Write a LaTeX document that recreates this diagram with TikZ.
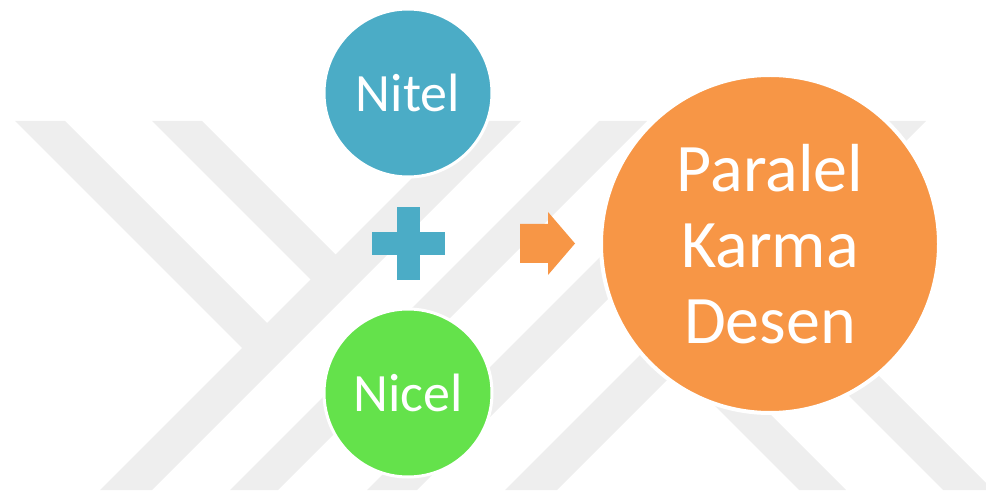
\documentclass[tikz,border=0pt]{standalone}
\usepackage{fontspec}
\setmainfont{Carlito}
\definecolor{nitelblue}{HTML}{4BACC6}
\definecolor{nicelgreen}{HTML}{64E24B}
\definecolor{desenorange}{HTML}{F79646}
\definecolor{markgray}{HTML}{EEEEEE}
\tikzset{
  blob/.style={circle, draw=white, line width=3pt, text=white, inner sep=0pt, align=center},
  small text/.style={font=\fontsize{54}{60}\selectfont},
  big text/.style={font=\fontsize{68}{76}\selectfont}
}

\begin{document}
\begin{tikzpicture}[x=1pt,y=-1pt]
\useasboundingbox (0,0) rectangle (986,494);
% watermark stripes
\begin{scope}
\clip (0,121) rectangle (986,490);
\foreach \ua/\ub in {590/642,720/768,857/907,995/1047}
  \fill[markgray] (\ua-121,121) -- (\ub-121,121) -- (\ub-490,490) -- (\ua-490,490) -- cycle;
\fill[markgray] (15,121) -- (65,121) -- (280,336) -- (255,361) -- cycle;
\fill[markgray] (152,121) -- (202,121) -- (348.5,267.5) -- (323.5,292.5) -- cycle;
\fill[markgray] (799,490) -- (846,490) -- (688.5,332.5) -- (665,356) -- cycle;
\fill[markgray] (943,490) -- (993,490) -- (762,259) -- (737,284) -- cycle;
\end{scope}

\node[blob, fill=nitelblue, minimum size=168pt, small text] (nitel) at (408,93) {Nitel};
\node[blob, fill=nicelgreen, minimum size=168pt, small text] (nicel) at (408,393) {Nicel};
\coordinate (plus) at (408.5,243.5);
\fill[nitelblue] (plus) ++(-11.5,-36.5) rectangle ++(23,73);
\fill[nitelblue] (plus) ++(-36.5,-11.5) rectangle ++(73,23);
\coordinate (arrow) at (520,243.5);
\fill[desenorange] (arrow) -- ++(0,-19.5) -- ++(28,0) -- ++(0,-12) -- ++(27,31.5)
  -- ++(-27,31.5) -- ++(0,-12) -- ++(-28,0) -- cycle;
\node[blob, fill=desenorange, minimum size=338pt, line width=4pt, big text] (desen) at (770,244) {Paralel\\Karma\\Desen};
\end{tikzpicture}
\end{document}
